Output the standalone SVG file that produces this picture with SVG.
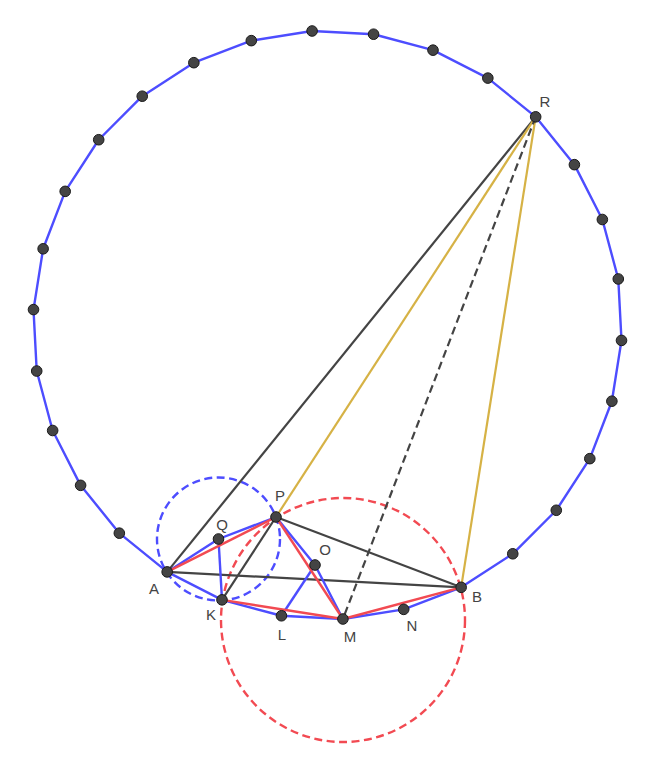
<svg xmlns="http://www.w3.org/2000/svg" width="655" height="774" viewBox="0 0 655 774">
<style>
.bl{stroke:#4d4dff;stroke-width:2.4;fill:none;stroke-linejoin:round}
.rd{stroke:#f24a52;stroke-width:2.4;fill:none}
.dk{stroke:#444;stroke-width:2.2;fill:none}
.gd{stroke:#d6b245;stroke-width:2.2;fill:none}
.dsh{stroke-dasharray:8 4.5}
.pt{fill:#444;stroke:#1a1a1a;stroke-width:1}
text{font-family:"Liberation Sans",Arial,sans-serif;font-size:15px;fill:#444;text-anchor:middle}
</style>
<rect width="655" height="774" fill="#fff"/>
<g id="connectors">
<circle class="bl dsh" cx="218.5" cy="539" r="61.5"/>
<circle class="rd dsh" cx="343" cy="620" r="122"/>
<polygon id="polygon30" class="bl" points="312.09,31 373.55,34.22 433,50.15 487.84,78.1 535.67,116.83 574.4,164.66 602.35,219.5 618.28,278.95 621.5,340.41 611.87,401.2 589.81,458.65 556.29,510.27 512.77,553.79 461.15,587.31 403.7,609.37 342.91,619 281.45,615.78 222,599.85 167.16,571.9 119.33,533.17 80.6,485.34 52.65,430.5 36.72,371.05 33.5,309.59 43.13,248.8 65.19,191.35 98.71,139.73 142.23,96.21 193.85,62.69 251.3,40.63"/>
<line class="dk" x1="535.67" y1="116.83" x2="167.16" y2="571.9"/>
<line class="gd" x1="535.67" y1="116.83" x2="276" y2="517"/>
<line class="gd" x1="535.67" y1="116.83" x2="461.15" y2="587.31"/>
<line class="dk dsh" x1="535.67" y1="116.83" x2="342.91" y2="619"/>
<line class="dk" x1="167.16" y1="571.9" x2="461.15" y2="587.31"/>
<line class="dk" x1="276" y1="517" x2="461.15" y2="587.31"/>
<line class="dk" x1="276" y1="517" x2="222" y2="599.85"/>
<polyline class="bl" points="167.16,571.9 218.5,539 276,517"/>
<line class="bl" x1="218.5" y1="539" x2="222" y2="599.85"/>
<polyline class="bl" points="276,517 315,565 342.91,619"/>
<line class="bl" x1="315" y1="565" x2="281.45" y2="615.78"/>
<line class="rd" x1="167.16" y1="571.9" x2="276" y2="517"/>
<line class="rd" x1="276" y1="517" x2="342.91" y2="619"/>
<line class="rd" x1="222" y1="599.85" x2="342.91" y2="619"/>
<line class="rd" x1="342.91" y1="619" x2="461.15" y2="587.31"/>
</g>
<g id="vertices">
<circle class="pt" cx="312.09" cy="31" r="5.3"/>
<circle class="pt" cx="373.55" cy="34.22" r="5.3"/>
<circle class="pt" cx="433" cy="50.15" r="5.3"/>
<circle class="pt" cx="487.84" cy="78.1" r="5.3"/>
<circle class="pt" cx="574.4" cy="164.66" r="5.3"/>
<circle class="pt" cx="602.35" cy="219.5" r="5.3"/>
<circle class="pt" cx="618.28" cy="278.95" r="5.3"/>
<circle class="pt" cx="621.5" cy="340.41" r="5.3"/>
<circle class="pt" cx="611.87" cy="401.2" r="5.3"/>
<circle class="pt" cx="589.81" cy="458.65" r="5.3"/>
<circle class="pt" cx="556.29" cy="510.27" r="5.3"/>
<circle class="pt" cx="512.77" cy="553.79" r="5.3"/>
<circle class="pt" cx="119.33" cy="533.17" r="5.3"/>
<circle class="pt" cx="80.6" cy="485.34" r="5.3"/>
<circle class="pt" cx="52.65" cy="430.5" r="5.3"/>
<circle class="pt" cx="36.72" cy="371.05" r="5.3"/>
<circle class="pt" cx="33.5" cy="309.59" r="5.3"/>
<circle class="pt" cx="43.13" cy="248.8" r="5.3"/>
<circle class="pt" cx="65.19" cy="191.35" r="5.3"/>
<circle class="pt" cx="98.71" cy="139.73" r="5.3"/>
<circle class="pt" cx="142.23" cy="96.21" r="5.3"/>
<circle class="pt" cx="193.85" cy="62.69" r="5.3"/>
<circle class="pt" cx="251.3" cy="40.63" r="5.3"/>
</g>
<g id="R"><circle class="pt" cx="535.67" cy="116.83" r="5.3"/><text x="545" y="107">R</text></g>
<g id="P"><circle class="pt" cx="276" cy="517" r="5.3"/><text x="280" y="501">P</text></g>
<g id="Q"><circle class="pt" cx="218.5" cy="539" r="5.3"/><text x="222" y="530">Q</text></g>
<g id="O"><circle class="pt" cx="315" cy="565" r="5.3"/><text x="325" y="555">O</text></g>
<g id="A"><circle class="pt" cx="167.16" cy="571.9" r="5.3"/><text x="154" y="594">A</text></g>
<g id="K"><circle class="pt" cx="222" cy="599.85" r="5.3"/><text x="211" y="620">K</text></g>
<g id="L"><circle class="pt" cx="281.45" cy="615.78" r="5.3"/><text x="282" y="640">L</text></g>
<g id="M"><circle class="pt" cx="342.91" cy="619" r="5.3"/><text x="350" y="642">M</text></g>
<g id="N"><circle class="pt" cx="403.7" cy="609.37" r="5.3"/><text x="412" y="631">N</text></g>
<g id="B"><circle class="pt" cx="461.15" cy="587.31" r="5.3"/><text x="477" y="602">B</text></g>
</svg>
